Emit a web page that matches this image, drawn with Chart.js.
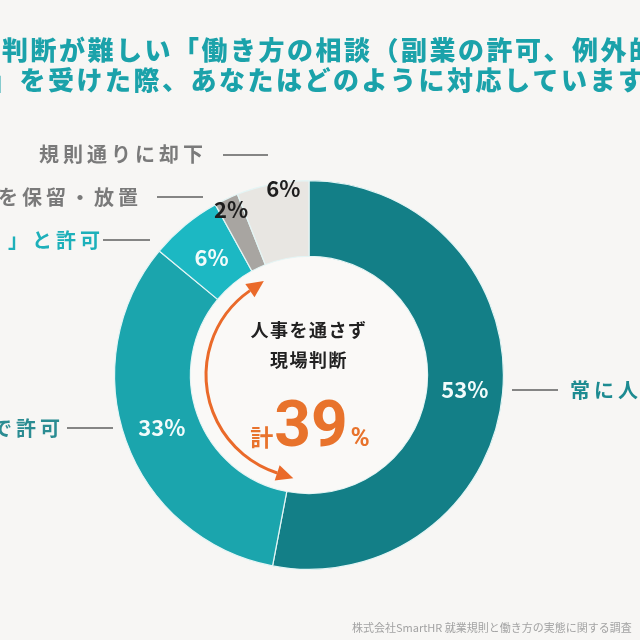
<!DOCTYPE html>
<html><head><meta charset="utf-8">
<script src="https://cdn.jsdelivr.net/npm/chart.js@4.4.1/dist/chart.umd.min.js"></script>
<style>
html,body{margin:0;padding:0;background:#f7f6f4;}
#wrap{width:640px;height:640px;position:relative;}
</style></head>
<body><div id="wrap"><canvas id="c" width="640" height="640"></canvas></div>
<script>
const categories = ["常に人事に相談", "現場判断で許可", "「前例がある」と許可", "対応を保留・放置", "規則通りに却下"];
const values = [53, 33, 6, 2, 6];
const valueLabels = ["53%", "33%", "6%", "2%", "6%"];
const segmentColors = ["#137f87", "#1ba5ad", "#1cb8c3", "#a8a5a1", "#e8e6e2"];
const titleLines = ["判断が難しい「働き方の相談（副業の許可、例外的", "」を受けた際、あなたはどのように対応していますか"];
const centerLines = ["人事を通さず", "現場判断"];
const centerTotal = ["計", "39", "%"];
const sideLabels = ["常に人", "で許可", "」と許可", "を保留・放置", "規則通りに却下"];
const sourceNote = "株式会社SmartHR 就業規則と働き方の実態に関する調査";

const FONT = '"Noto Sans CJK JP","Noto Sans",sans-serif';
const labelPlace = [
  {da:0, rf:0.5, color:"#f2fbfb"},
  {da:0, rf:0.5, color:"#f2fbfb"},
  {da:0, rf:0.45, color:"#f2fbfb"},
  {da:0, rf:0.85, color:"#1e1e1e"},
  {da:3, rf:0.92, color:"#1e1e1e"}
];

const overlay = {
  id:'overlay',
  beforeDraw(chart){
    const ctx = chart.ctx;
    ctx.save();
    ctx.fillStyle = '#f7f6f4';
    ctx.fillRect(0,0,chart.width,chart.height);
    ctx.restore();
  },
  afterDatasetsDraw(chart){
    const ctx = chart.ctx;
    const meta = chart.getDatasetMeta(0);
    const a0 = meta.data[0];
    const cx = a0.x, cy = a0.y;
    const inner = a0.innerRadius;
    ctx.save();
    ctx.beginPath(); ctx.arc(cx,cy,inner-0.5,0,Math.PI*2); ctx.fillStyle='#faf9f7'; ctx.fill();

    ctx.textAlign='center'; ctx.textBaseline='middle';
    ctx.font = 'bold 22px ' + FONT;
    meta.data.forEach((arc,i)=>{
      const p = labelPlace[i];
      const mid = (arc.startAngle+arc.endAngle)/2 + p.da*Math.PI/180;
      const r = arc.innerRadius + (arc.outerRadius-arc.innerRadius)*p.rf;
      ctx.fillStyle = p.color;
      ctx.fillText(valueLabels[i], cx + r*Math.cos(mid), cy + r*Math.sin(mid));
    });

    // title
    ctx.textAlign='left'; ctx.textBaseline='middle';
    ctx.fillStyle = '#1ba2aa';
    ctx.font = '900 26px ' + FONT;
    ctx.letterSpacing = '2.5px';
    ctx.fillText(titleLines[0], 2, 50);
    ctx.fillText(titleLines[1], -9, 80);

    // side labels
    ctx.font = 'bold 20px ' + FONT;
    ctx.letterSpacing = '4px';
    ctx.strokeStyle = '#5f5f5f'; ctx.lineWidth = 1.5;
    function hline(x1,x2,y){ctx.beginPath();ctx.moveTo(x1,y);ctx.lineTo(x2,y);ctx.stroke();}
    ctx.textAlign='left'; ctx.fillStyle='#1d8b91';
    ctx.fillText(sideLabels[0], cx+261, cy+15);
    hline(cx+203, cx+249, cy+15);
    ctx.textAlign='right';
    ctx.fillStyle='#2b8c92';
    ctx.fillText(sideLabels[1], cx-245, cy+53);
    hline(cx-242, cx-196, cy+53);
    ctx.fillStyle='#1db0ba';
    ctx.fillText(sideLabels[2], cx-205, cy-135);
    hline(cx-206, cx-159, cy-135);
    ctx.fillStyle='#7a7a7a';
    ctx.fillText(sideLabels[3], cx-167, cy-178);
    hline(cx-152, cx-106, cy-178);
    ctx.fillText(sideLabels[4], cx-102, cy-221);
    hline(cx-86, cx-41, cy-220);
    ctx.letterSpacing = '0px';

    // center text
    ctx.textAlign='center'; ctx.fillStyle='#222';
    ctx.font = 'bold 18px ' + FONT;
    ctx.letterSpacing = '1.5px';
    ctx.fillText(centerLines[0], cx, cy-45);
    ctx.fillText(centerLines[1], cx, cy-15);
    ctx.letterSpacing = '0px';
    ctx.fillStyle = '#e8732c';
    ctx.textBaseline='alphabetic';
    ctx.font = 'bold 64px "Roboto","Noto Sans",sans-serif';
    const w39 = ctx.measureText(centerTotal[1]).width;
    ctx.font = 'bold 23px ' + FONT;
    const wK = ctx.measureText(centerTotal[0]).width;
    ctx.font = 'bold 26px "Roboto","Noto Sans",sans-serif';
    const wP = ctx.measureText(centerTotal[2]).width;
    const total = wK + w39 + wP + 4;
    let x = cx - total/2 + 1;
    const base = cy + 71;
    ctx.textAlign='left';
    ctx.font = 'bold 23px ' + FONT;
    ctx.fillText(centerTotal[0], x, base); x += wK + 1;
    ctx.font = 'bold 64px "Roboto","Noto Sans",sans-serif';
    ctx.fillText(centerTotal[1], x, base); x += w39 + 3;
    ctx.font = 'bold 26px "Roboto","Noto Sans",sans-serif';
    ctx.fillText(centerTotal[2], x, base);

    // arrow
    const ar = 103;
    const t1 = 108*Math.PI/180, t2 = 235*Math.PI/180;
    ctx.strokeStyle = '#ea6a2a'; ctx.fillStyle='#ea6a2a'; ctx.lineWidth = 3;
    ctx.beginPath(); ctx.arc(cx,cy,ar,t1,t2,false); ctx.stroke();
    function head(theta, dir){
      const px = cx+ar*Math.cos(theta), py = cy+ar*Math.sin(theta);
      const tx = -Math.sin(theta)*dir, ty = Math.cos(theta)*dir;
      const nx = -ty, ny = tx;
      const L = 17, W = 8;
      ctx.beginPath();
      ctx.moveTo(px + tx*L, py + ty*L);
      ctx.lineTo(px + nx*W, py + ny*W);
      ctx.lineTo(px - nx*W, py - ny*W);
      ctx.closePath(); ctx.fill();
    }
    head(t2, 1);
    head(t1, -1);

    ctx.textAlign='left'; ctx.textBaseline='middle';
    ctx.fillStyle='#a3a3a3';
    ctx.font = '11px ' + FONT;
    ctx.fillText(sourceNote, 352, 628);
    ctx.restore();
  }
};

new Chart(document.getElementById('c'), {
  type:'doughnut',
  data:{ labels: categories, datasets:[{ data: values, backgroundColor: segmentColors,
    borderColor:'#e4f5f5', borderWidth:1.2 }]},
  options:{
    responsive:false, animation:false, devicePixelRatio:1,
    cutout:'61%', rotation:0,
    layout:{padding:{left:114, right:136, top:180, bottom:70}},
    plugins:{legend:{display:false}, tooltip:{enabled:false}, title:{display:false}}
  },
  plugins:[overlay]
});
</script></body></html>
